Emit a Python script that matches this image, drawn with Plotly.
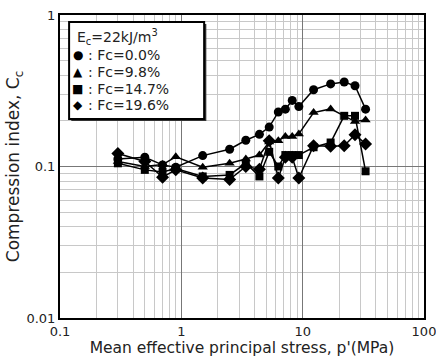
import plotly.graph_objects as go

# Data
x_fc00 = [0.3, 0.5, 0.7, 0.9, 1.5, 2.5, 3.4, 4.4, 5.3, 6.3, 7.2, 8.2, 9.3, 12.3, 17, 22, 27, 33]
y_fc00 = [0.112, 0.115, 0.1025, 0.099, 0.118, 0.130, 0.149, 0.163, 0.182, 0.229, 0.239, 0.273, 0.249, 0.321, 0.351, 0.361, 0.341, 0.239]

x_fc98 = [0.3, 0.5, 0.7, 0.9, 1.5, 2.5, 3.4, 4.4, 5.3, 6.3, 7.2, 8.2, 9.3, 12.3, 17, 27, 33]
y_fc98 = [0.108, 0.100, 0.103, 0.116, 0.099, 0.105, 0.112, 0.119, 0.145, 0.148, 0.158, 0.158, 0.164, 0.227, 0.240, 0.198, 0.203]

x_fc147 = [0.3, 0.5, 0.7, 0.9, 1.5, 2.5, 3.4, 4.4, 5.3, 6.3, 7.2, 8.2, 9.3, 12.3, 17, 22, 27, 33]
y_fc147 = [0.105, 0.095, 0.092, 0.097, 0.086, 0.088, 0.105, 0.086, 0.125, 0.100, 0.119, 0.119, 0.119, 0.134, 0.144, 0.216, 0.216, 0.093]

x_fc196 = [0.3, 0.5, 0.7, 0.9, 1.5, 2.5, 3.4, 4.4, 5.3, 6.3, 7.2, 8.2, 9.3, 12.3, 17, 22, 27, 33]
y_fc196 = [0.122, 0.108, 0.085, 0.095, 0.084, 0.082, 0.100, 0.096, 0.148, 0.084, 0.115, 0.115, 0.084, 0.137, 0.136, 0.137, 0.162, 0.141]

series = [
    (x_fc00, y_fc00, "circle", 9, ": Fc=0.0%"),
    (x_fc98, y_fc98, "triangle-up", 9, ": Fc=9.8%"),
    (x_fc147, y_fc147, "square", 8, ": Fc=14.7%"),
    (x_fc196, y_fc196, "diamond", 10, ": Fc=19.6%"),
]

legend_title = "E<sub>c</sub>=22kJ/m<sup>3</sup>"
legend_symbols = ["●", "▲", "■", "◆"]

fig = go.Figure()
for xs, ys, sym, sz, name in series:
    fig.add_trace(go.Scatter(
        x=xs, y=ys, mode="lines+markers", name=name,
        line=dict(color="black", width=1.5),
        marker=dict(symbol=sym, size=sz, color="black"),
        showlegend=False,
    ))

font_family = "DejaVu Sans, Verdana, sans-serif"

axis_common = dict(
    type="log", automargin=False, ticklabeloverflow="allow",
    showline=True, linecolor="black", linewidth=2, mirror=True,
    showgrid=True, gridcolor="#777777", gridwidth=1,
    ticks="", zeroline=False,
    tickfont=dict(family=font_family, size=13, color="#222222"),
    minor=dict(dtick="D1", showgrid=True, gridcolor="#c8c8c8", gridwidth=1, ticks=""),
)

fig.update_layout(
    width=436, height=358,
    margin=dict(l=60, r=12, t=15, b=40),
    paper_bgcolor="white", plot_bgcolor="white",
    font=dict(family=font_family, color="#222222"),
    xaxis=dict(axis_common, range=[-1, 2], dtick=1,
               title=dict(text="Mean effective principal stress, p'(MPa)",
                          font=dict(size=15.5), standoff=0)),
    yaxis=dict(axis_common, range=[-2, 0], dtick=1,
               title=dict(text="Compression index, C<sub>c</sub>",
                          font=dict(size=17), standoff=2)),
)

# Legend box with shadow
fig.add_shape(type="rect", xref="paper", yref="paper",
              x0=0.031, x1=0.402, y0=0.650, y1=0.970,
              fillcolor="#333333", line=dict(width=0), layer="above")
fig.add_shape(type="rect", xref="paper", yref="paper",
              x0=0.025, x1=0.396, y0=0.657, y1=0.977,
              fillcolor="white", line=dict(color="black", width=2), layer="above")

fig.add_annotation(xref="paper", yref="paper", x=0.04, y=0.927,
                   text=legend_title, showarrow=False, xanchor="left", yanchor="middle",
                   font=dict(size=14, color="#222222"))
ys_leg = [0.868, 0.812, 0.756, 0.703]
for sym_txt, (xs, ys, sym, sz, name), yl in zip(legend_symbols, series, ys_leg):
    fig.add_annotation(xref="paper", yref="paper", x=0.049, y=yl,
                       text=sym_txt, showarrow=False, xanchor="center", yanchor="middle",
                       font=dict(size=12, color="black", family="DejaVu Sans"))
    fig.add_annotation(xref="paper", yref="paper", x=0.072, y=yl,
                       text=name, showarrow=False, xanchor="left", yanchor="middle",
                       font=dict(size=14, color="#222222"))

fig.write_html("out.html")
